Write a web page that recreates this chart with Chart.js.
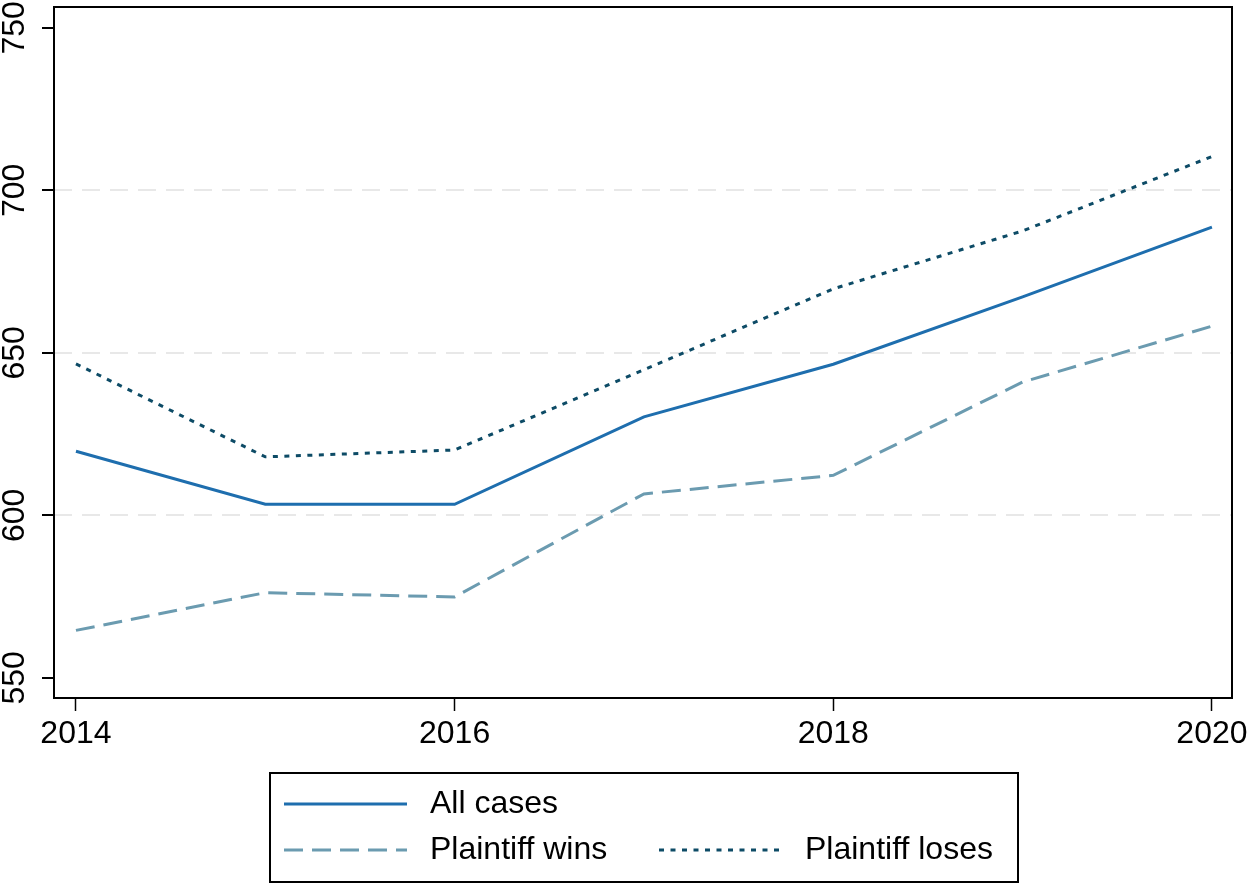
<!DOCTYPE html>
<html>
<head>
<meta charset="utf-8">
<script src="https://cdn.jsdelivr.net/npm/chart.js@4.4.1/dist/chart.umd.min.js"></script>
<style>
    html, body { margin: 0; padding: 0; background: #fff; }
    canvas { display: block; }
</style>
</head>
<body>
<canvas id="casesChart" width="1250" height="884"></canvas>
<script>
// --- Data ---
const years = [2014, 2015, 2016, 2017, 2018, 2019, 2020];
const allCases = [619.7, 603.4, 603.4, 630.3, 646.5, 667.2, 688.7];
const plaintiffWins = [564.6, 576.2, 574.9, 606.6, 612.3, 641.0, 658.2];
const plaintiffLoses = [646.6, 618.0, 620.1, 644.8, 669.7, 687.5, 710.4];
const xTicks = [2014, 2016, 2018, 2020];
const yTicks = [550, 600, 650, 700, 750];
const yGrid = [600, 650, 700];

const FONT = "'Liberation Sans', Arial, sans-serif";

function toPoints(values) {
    return years.map((yr, i) => ({ x: yr, y: values[i] }));
}

// frame around the plot region
const framePlugin = {
    id: 'frame',
    afterDatasetsDraw(chart) {
        const { ctx, chartArea: a } = chart;
        ctx.save();
        ctx.strokeStyle = '#000';
        ctx.lineWidth = 2;
        ctx.strokeRect(a.left, a.top, a.right - a.left, a.bottom - a.top);
        ctx.restore();
    }
};

// boxed legend: one item on the first row, two on the second
const legendPlugin = {
    id: 'boxLegend',
    afterDraw(chart) {
        const { ctx } = chart;
        const slots = [
            { x1: 284, x2: 407, tx: 430, y: 804 },
            { x1: 284, x2: 407, tx: 430, y: 850 },
            { x1: 659, x2: 779, tx: 805, y: 850 }
        ];
        ctx.save();
        ctx.strokeStyle = '#000';
        ctx.lineWidth = 2;
        ctx.strokeRect(270, 773, 748, 109);
        chart.data.datasets.forEach((ds, i) => {
            const s = slots[i];
            ctx.beginPath();
            ctx.setLineDash(ds.borderDash || []);
            ctx.strokeStyle = ds.borderColor;
            ctx.lineWidth = ds.borderWidth;
            ctx.moveTo(s.x1, s.y);
            ctx.lineTo(s.x2, s.y);
            ctx.stroke();
            ctx.setLineDash([]);
            ctx.fillStyle = '#000';
            ctx.font = `32px ${FONT}`;
            ctx.textBaseline = 'middle';
            ctx.textAlign = 'left';
            ctx.fillText(ds.label, s.tx, s.y);
        });
        ctx.restore();
    }
};

const ctx = document.getElementById('casesChart').getContext('2d');
new Chart(ctx, {
    type: 'line',
    data: {
        datasets: [
            {
                label: 'All cases',
                data: toPoints(allCases),
                borderColor: '#1e6eae',
                borderWidth: 3,
                tension: 0,
                pointRadius: 0
            },
            {
                label: 'Plaintiff wins',
                data: toPoints(plaintiffWins),
                borderColor: '#6b9bb0',
                borderWidth: 3,
                borderDash: [19, 9],
                tension: 0,
                pointRadius: 0
            },
            {
                label: 'Plaintiff loses',
                data: toPoints(plaintiffLoses),
                borderColor: '#0d4b66',
                borderWidth: 3,
                borderDash: [5, 6.5],
                tension: 0,
                pointRadius: 0
            }
        ]
    },
    options: {
        responsive: false,
        animation: false,
        devicePixelRatio: 1,
        layout: { padding: { top: 7, right: 18, bottom: 126, left: 0 } },
        plugins: {
            legend: { display: false },
            tooltip: { enabled: false }
        },
        scales: {
            x: {
                type: 'linear',
                min: 2013.884,
                max: 2020.106,
                afterBuildTicks: (scale) => { scale.ticks = xTicks.map(v => ({ value: v })); },
                afterFit: (scale) => {
                    scale.height = 60;
                    scale.paddingLeft = 0;
                    scale.paddingRight = 0;
                },
                ticks: {
                    includeBounds: false,
                    color: '#000',
                    padding: 4,
                    maxRotation: 0,
                    font: { family: FONT, size: 32 },
                    callback: (v) => String(v)
                },
                grid: {
                    drawOnChartArea: false,
                    tickLength: 13,
                    tickColor: '#000',
                    tickWidth: 1.5
                },
                border: { display: false }
            },
            y: {
                type: 'linear',
                min: 543.8,
                max: 756.4,
                afterBuildTicks: (scale) => { scale.ticks = yTicks.map(v => ({ value: v })); },
                afterFit: (scale) => {
                    scale.width = 54;
                    scale.paddingTop = 0;
                    scale.paddingBottom = 0;
                },
                ticks: {
                    includeBounds: false,
                    color: '#000',
                    padding: 0,
                    minRotation: 90,
                    maxRotation: 90,
                    crossAlign: 'center',
                    font: { family: FONT, size: 32 },
                    callback: (v) => String(v)
                },
                grid: {
                    color: (c) => (c.tick && yGrid.includes(c.tick.value)) ? '#e8e8e8' : 'rgba(0,0,0,0)',
                    lineWidth: 2,
                    tickLength: 12,
                    tickColor: '#000',
                    tickWidth: 2
                },
                border: { display: false, dash: [18, 10] }
            }
        }
    },
    plugins: [framePlugin, legendPlugin]
});
</script>
</body>
</html>
